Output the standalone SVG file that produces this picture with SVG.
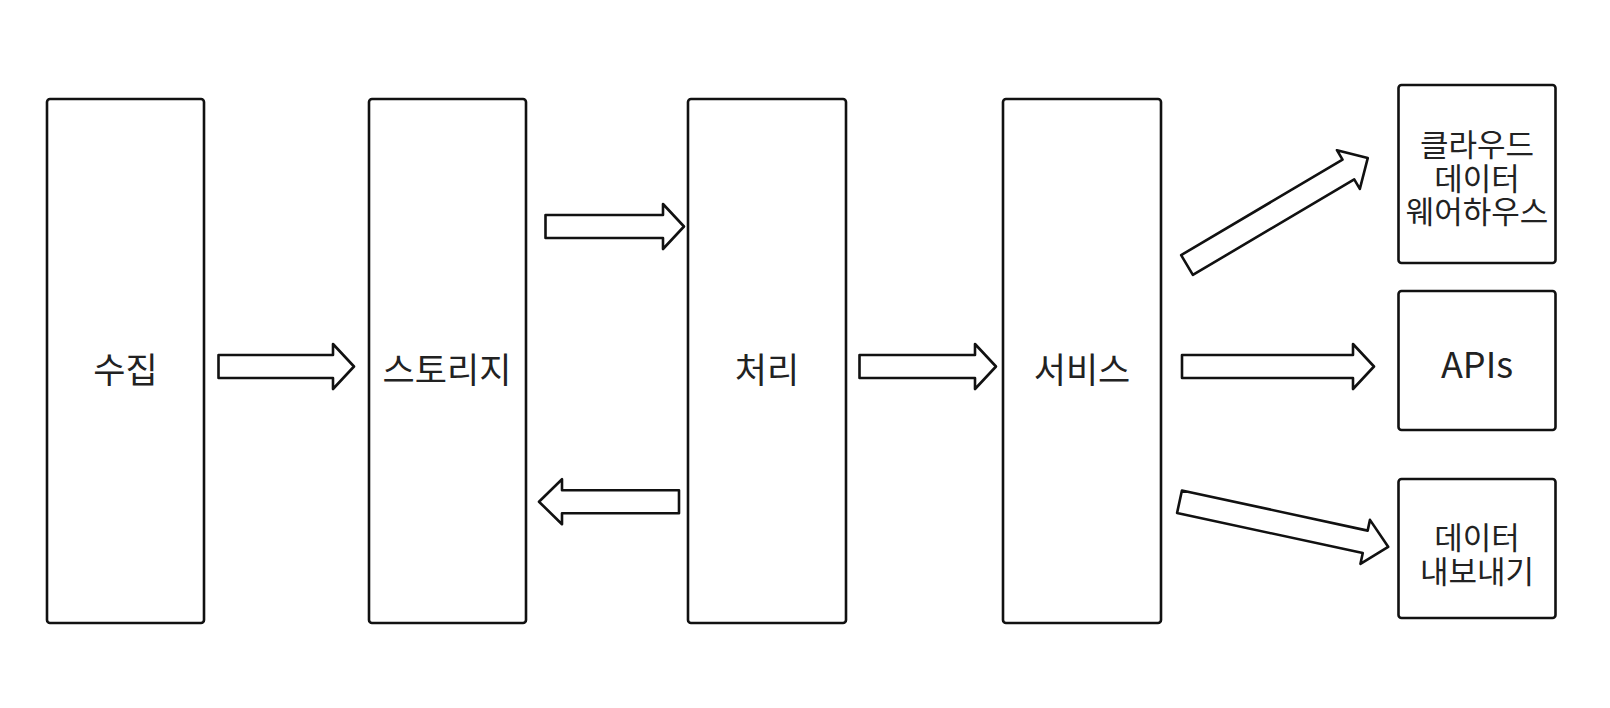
<svg xmlns="http://www.w3.org/2000/svg" width="1610" height="708" viewBox="0 0 1610 708">
<style>
.box{fill:#fff;stroke:#111;stroke-width:2.6;}
.arr{fill:#fff;stroke:#111;stroke-width:2.6;stroke-linejoin:round;}
.lbl{font-family:"Noto Sans CJK KR","Noto Sans",sans-serif;fill:#222;text-anchor:middle;dominant-baseline:central;}
.big{font-size:35px;}
.sm{font-size:31px;}
</style>
<rect width="1610" height="708" fill="#fff"/>
<g id="collect"><rect class="box" x="47" y="99" width="157" height="524" rx="3"/><text class="lbl big" x="125.5" y="367">수집</text></g>
<g id="storage"><rect class="box" x="369" y="99" width="157" height="524" rx="3"/><text class="lbl big" x="447" y="367">스토리지</text></g>
<g id="process"><rect class="box" x="688" y="99" width="158" height="524" rx="3"/><text class="lbl big" x="767" y="367">처리</text></g>
<g id="service"><rect class="box" x="1003" y="99" width="158" height="524" rx="3"/><text class="lbl big" x="1082" y="367">서비스</text></g>
<g id="cloud-dw"><rect class="box" x="1398.5" y="85" width="157" height="178" rx="3"/><text class="lbl sm"><tspan x="1477" y="142">클라우드</tspan><tspan x="1477" y="175.5">데이터</tspan><tspan x="1477" y="209">웨어하우스</tspan></text></g>
<g id="apis"><rect class="box" x="1398.5" y="291" width="157" height="139" rx="3"/><text class="lbl" style="font-size:36px" x="1477" y="362">APIs</text></g>
<g id="export"><rect class="box" x="1398.5" y="479" width="157" height="139" rx="3"/><text class="lbl sm"><tspan x="1477" y="535">데이터</tspan><tspan x="1477" y="569">내보내기</tspan></text></g>
<g id="connectors">
<path class="arr" transform="translate(218.5,366.5)" d="M0,-11.5 H114.5 V-22.5 L135.5,0 L114.5,22.5 V11.5 H0 Z"/>
<path class="arr" transform="translate(545.5,226.5)" d="M0,-11.5 H117.5 V-22.5 L138.5,0 L117.5,22.5 V11.5 H0 Z"/>
<path class="arr" transform="translate(679,501.7) rotate(180)" d="M0,-11.5 H117 V-22.5 L140,0 L117,22.5 V11.5 H0 Z"/>
<path class="arr" transform="translate(859.5,366.5)" d="M0,-11.5 H115.5 V-22.5 L136.5,0 L115.5,22.5 V11.5 H0 Z"/>
<path class="arr" transform="translate(1182,366.5)" d="M0,-11.5 H171 V-22.5 L192,0 L171,22.5 V11.5 H0 Z"/>
<path class="arr" transform="translate(1187,265) rotate(-30.6)" d="M0,-11.5 H187.5 V-22.5 L210,0 L187.5,22.5 V11.5 H0 Z"/>
<path class="arr" transform="translate(1179.5,501.7) rotate(12.2)" d="M0,-11.5 H190 V-22.5 L213.5,0 L190,22.5 V11.5 H0 Z"/>
</g>
</svg>
